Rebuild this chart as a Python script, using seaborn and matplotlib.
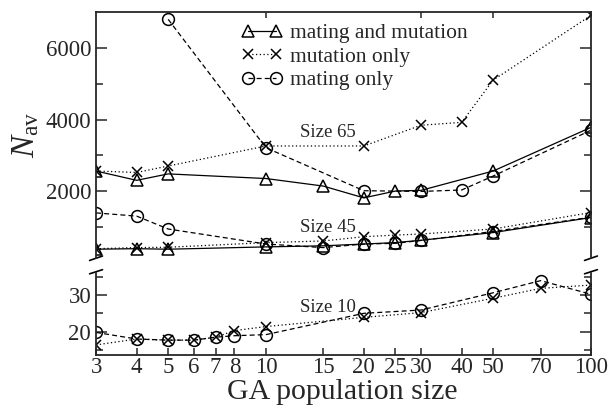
import seaborn as sns
import matplotlib.pyplot as plt
import numpy as np
import pandas as pd
from matplotlib.ticker import FixedLocator, NullLocator, NullFormatter

sns.set_style('ticks')
plt.rcParams['font.family'] = ['Liberation Serif', 'DejaVu Serif']
plt.rcParams['mathtext.fontset'] = 'custom'
plt.rcParams['mathtext.rm'] = 'Liberation Serif'
plt.rcParams['mathtext.it'] = 'Liberation Serif:italic'

# size 65
x65_both = [3, 4, 5, 10, 15, 20, 25, 30, 50, 100]
y65_both = [2560, 2300, 2480, 2350, 2140, 1810, 2000, 2020, 2560, 3780]
x65_mut = [3, 4, 5, 10, 20, 30, 40, 50, 100]
y65_mut = [2560, 2520, 2700, 3260, 3260, 3840, 3920, 5100, 6910]
x65_mat = [5, 10, 20, 30, 40, 50, 100]
y65_mat = [6800, 3210, 2010, 1990, 2030, 2420, 3700]

# size 45
x45 = [3, 4, 5, 10, 15, 20, 25, 30, 50, 100]
y45_both = [375, 390, 375, 440, 470, 520, 560, 625, 840, 1260]
y45_mut = [390, 420, 430, 560, 605, 725, 770, 800, 940, 1400]
y45_mat = [1390, 1300, 940, 520, 420, 520, 540, 620, 870, 1270]

# size 10
x10 = [3, 4, 5, 6, 7, 8, 10, 20, 30, 50, 70, 100]
y10_mut = [16.4, 18.0, 17.7, 17.7, 18.5, 20.3, 21.4, 23.9, 25.2, 29.1, 31.8, 32.7]
y10_mat = [19.8, 18.0, 17.7, 17.7, 18.5, 18.9, 19.2, 25.0, 25.9, 30.6, 33.9, 30.2]

xticks = [3, 4, 5, 6, 7, 8, 10, 15, 20, 25, 30, 40, 50, 70, 100]
labels = ['mating and mutation', 'mutation only', 'mating only']

sty = {
    'both': dict(marker='^', linestyle='-', markersize=8),
    'mut': dict(marker='x', linestyle=(0, (1, 2)), markersize=6.5),
    'mat': dict(marker='o', linestyle=(0, (4, 2.5)), markersize=8.5),
}

fig = plt.figure(figsize=(6.08, 4.05), dpi=100)
ax1 = fig.add_axes([0.158, 0.363, 0.814, 0.607])
ax2 = fig.add_axes([0.158, 0.123, 0.814, 0.204])


def draw(ax, x, y, key):
    sns.lineplot(x=x, y=y, ax=ax, color='black', lw=0.9,
                 markerfacecolor='none', markeredgecolor='black',
                 markeredgewidth=1.1, **sty[key])
    return ax.lines[-1]


h1 = draw(ax1, x65_both, y65_both, 'both')
h2 = draw(ax1, x65_mut, y65_mut, 'mut')
h3 = draw(ax1, x65_mat, y65_mat, 'mat')
draw(ax1, x45, y45_both, 'both')
draw(ax1, x45, y45_mut, 'mut')
draw(ax1, x45, y45_mat, 'mat')
draw(ax2, x10, y10_mut, 'mut')
draw(ax2, x10, y10_mat, 'mat')

for ax in (ax1, ax2):
    ax.set_xscale('log')
    ax.set_xlim(3, 100)
    ax.xaxis.set_minor_locator(NullLocator())
    ax.xaxis.set_minor_formatter(NullFormatter())
    ax.tick_params(direction='in', which='both', left=True, right=True,
                   labelsize=16.5, width=1.1)
    for s in ax.spines.values():
        s.set_linewidth(1.3)

ax1.set_ylim(130, 7000)
ax1.yaxis.set_major_locator(FixedLocator([2000, 4000, 6000]))
ax1.yaxis.set_minor_locator(FixedLocator([1000, 3000, 5000]))
ax1.tick_params(axis='y', which='major', length=8)
ax1.tick_params(axis='y', which='minor', length=5)
ax1.xaxis.set_major_locator(FixedLocator([10, 30, 50]))
ax1.tick_params(axis='x', which='major', top=True, bottom=False,
                labelbottom=False, length=4)
ax1.spines['bottom'].set_visible(False)
ax1.set_ylabel(r'$N_{\rm av}$', fontsize=24)
ax1.yaxis.set_label_coords(-0.11, 0.5)
ax1.set_xlabel('')

ax2.set_ylim(13.6, 36.1)
ax2.yaxis.set_major_locator(FixedLocator([20, 30]))
ax2.yaxis.set_minor_locator(FixedLocator([15, 25, 35]))
ax2.tick_params(axis='y', which='major', length=8)
ax2.tick_params(axis='y', which='minor', length=5)
ax2.xaxis.set_major_locator(FixedLocator(xticks))
ax2.set_xticklabels([str(t) for t in xticks])
ax2.tick_params(axis='x', which='major', top=False, length=5, pad=1.5)
ax2.spines['top'].set_visible(False)
ax2.set_xlabel('')
fig.text(0.563, 0.016, 'GA population size', fontsize=21.5,
         ha='center', va='baseline')

# break marks
kw = dict(color='black', lw=1.2, clip_on=False)
for xa in (0, 1):
    ax1.plot([xa - 0.013, xa + 0.013], [-0.01, 0.008], transform=ax1.transAxes, **kw)
    ax2.plot([xa - 0.013, xa + 0.013], [0.985, 1.035], transform=ax2.transAxes, **kw)

ax1.text(15.5, 3650, 'Size 65', fontsize=13.5, ha='center', va='center')
ax1.text(15.5, 970, 'Size 45', fontsize=13.5, ha='center', va='center')
ax2.text(15.5, 26.5, 'Size 10', fontsize=13.5, ha='center', va='center')

ax1.legend([h1, h2, h3], labels, loc='upper left', bbox_to_anchor=(0.272, 0.998),
           frameon=False, fontsize=15.5, numpoints=2, handlelength=1.9,
           handletextpad=0.35, labelspacing=0.15, borderpad=0)

fig.savefig('out.png', dpi=100)
